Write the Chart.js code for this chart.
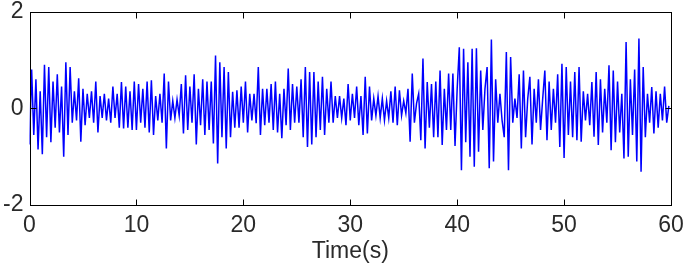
<!DOCTYPE html>
<html><head><meta charset="utf-8">
<script src="https://cdn.jsdelivr.net/npm/chart.js@4"></script>
<style>html,body{margin:0;padding:0;background:#fff}#wrap{width:685px;height:275px}</style>
</head><body><div id="wrap"><canvas id="c" width="685" height="275"></canvas></div>
<script>
const DT = 0.2;            // sampling step (s)
const xTickValues = [0, 10, 20, 30, 40, 50, 60];
const yTickValues = [-2, 0, 2];
const xTitle = 'Time(s)';
// signal values, one row per second (5 samples)
const signal = [
 -0.75, 0.80,-0.55, 0.60,-0.85,
  0.35,-0.95, 0.90,-0.60, 0.85,
 -0.70, 0.55,-0.40, 0.70,-0.50,
  0.45,-1.00, 0.95,-0.55, 0.85,
 -0.30, 0.35,-0.25, 0.62,-0.69,
  0.40,-0.35, 0.30,-0.20, 0.35,
 -0.30, 0.55,-0.50, 0.25,-0.20,
  0.30,-0.25, 0.20,-0.30, 0.45,
 -0.20, 0.30,-0.40, 0.54,-0.42,
  0.45,-0.40, 0.35,-0.45, 0.55,
 -0.45, 0.50,-0.30, 0.40,-0.40,
  0.55,-0.50, 0.58,-0.55, 0.25,
 -0.25, 0.30,-0.30, 0.72,-0.83,
  0.55,-0.25, 0.15,-0.20, 0.18,
 -0.15, 0.50,-0.52, 0.68,-0.45,
  0.45,-0.30, 0.70,-0.75, 0.40,
 -0.35, 0.60,-0.55, 0.55,-0.45,
  0.55,-0.73, 1.09,-1.14, 0.95,
 -0.60, 0.85,-0.83, 0.75,-0.60,
  0.34,-0.40, 0.37,-0.40, 0.45,
 -0.30, 0.55,-0.50, 0.30,-0.25,
  0.30,-0.31, 0.85,-0.55, 0.40,
 -0.35, 0.40,-0.30, 0.50,-0.45,
  0.55,-0.50, 0.30,-0.62, 0.40,
 -0.35, 0.82,-0.45, 0.50,-0.30,
  0.45,-0.30, 0.60,-0.60, 0.85,
 -0.80, 0.75,-0.75, 0.75,-0.60,
  0.55,-0.45, 0.65,-0.55, 0.40,
 -0.30, 0.55,-0.30, 0.25,-0.20,
  0.25,-0.20, 0.20,-0.35, 0.50,
 -0.25, 0.30,-0.20, 0.45,-0.35,
  0.25,-0.55, 0.65,-0.52, 0.45,
 -0.25, 0.20,-0.15, 0.25,-0.20,
  0.20,-0.25, 0.15,-0.20, 0.35,
 -0.30, 0.45,-0.35, 0.37,-0.15,
  0.15,-0.10, 0.40,-0.69, 0.72,
 -0.30, 0.10, 0.30,-0.66, 1.03,
 -0.83, 0.54,-0.40, 0.50,-0.60,
  0.55,-0.60, 0.78,-0.76, 0.40,
 -0.45, 0.72,-0.45, 0.72,-0.78,
  0.40, 1.26,-1.28, 1.23,-0.70,
  0.95,-1.00, 1.23,-1.21, 1.24,
 -0.90, 0.78,-0.45, 0.40, 0.85,
 -1.24, 1.42,-1.10, 0.60,-0.30,
  0.30,-0.25,-0.60, 1.16,-1.28,
  1.06,-0.30, 0.20,-0.20, 0.70,
 -0.83, 0.78,-0.60, 0.20, 0.65,
 -0.75, 0.40,-0.30, 0.60,-0.45,
  0.20, 0.78,-0.66, 0.55,-0.45,
  0.40,-0.30, 0.70,-0.80, 0.92,
 -1.03, 0.85,-0.55, 0.55,-0.60,
  0.75,-0.66, 0.85,-0.69, 0.35,
 -0.25, 0.30,-0.35, 0.54,-0.59,
  0.75,-0.76, 0.60,-0.50, 0.40,
 -0.30, 0.89,-0.87, 0.78,-0.70,
  0.55,-0.50, 0.30,-1.04, 1.37,
 -1.00, 0.60,-0.55, 0.80,-1.10,
  1.44,-1.31, 0.85,-0.60, 0.30,
 -0.30, 0.44,-0.52, 0.35,-0.40,
  0.30,-0.25, 0.45,-0.30, 0.05
];
const times = signal.map((_, i) => Math.round(i * DT * 10) / 10);
const points = signal.map((v, i) => ({ x: times[i], y: v }));

const FONT = { family: '"Liberation Sans", Arial, sans-serif', size: 23 };
const TEXT = '#2a2a2a';

const boxPlugin = {
  id: 'box',
  afterDatasetsDraw(chart) {
    const { ctx, chartArea: a, scales: { x, y } } = chart;
    ctx.save();
    ctx.strokeStyle = '#000';
    ctx.lineWidth = 1;
    const L = Math.round(a.left) + 0.5, R = Math.round(a.right) + 0.5;
    const T = Math.round(a.top) + 0.5, B = Math.round(a.bottom) + 0.5;
    ctx.strokeRect(L, T, R - L, B - T);
    const len = 6;
    ctx.beginPath();
    x.ticks.forEach(t => {
      const px = Math.round(x.getPixelForValue(t.value)) + 0.5;
      ctx.moveTo(px, B); ctx.lineTo(px, B - len);
      ctx.moveTo(px, T); ctx.lineTo(px, T + len);
    });
    y.ticks.forEach(t => {
      const py = Math.round(y.getPixelForValue(t.value)) + 0.5;
      ctx.moveTo(L, py); ctx.lineTo(L + len, py);
      ctx.moveTo(R, py); ctx.lineTo(R - len, py);
    });
    ctx.stroke();
    ctx.restore();
  }
};

new Chart(document.getElementById('c'), {
  type: 'line',
  data: { datasets: [{ data: points, borderColor: '#0000ff', borderWidth: 1.5,
    pointRadius: 0, tension: 0, fill: false }] },
  options: {
    responsive: false, devicePixelRatio: 1, animation: false,
    layout: { padding: { top: 11.5, right: 14, left: 0, bottom: 0 } },
    plugins: { legend: { display: false }, tooltip: { enabled: false } },
    scales: {
      x: {
        type: 'linear', min: 0, max: 60,
        afterBuildTicks: s => { s.ticks = xTickValues.map(v => ({ value: v })); },
        afterFit: s => { s.height = 70; s.paddingLeft = 0; s.paddingRight = 0; },
        grid: { display: false, drawTicks: false }, border: { display: false },
        ticks: { font: FONT, color: TEXT, padding: 7, maxRotation: 0, autoSkip: false },
        title: { display: true, text: xTitle, font: FONT, color: TEXT, padding: { top: 0, bottom: 10 } }
      },
      y: {
        min: -2, max: 2,
        afterBuildTicks: s => { s.ticks = yTickValues.map(v => ({ value: v })); },
        afterFit: s => { s.width = 29.5; s.paddingTop = 0; s.paddingBottom = 0; },
        grid: { display: false, drawTicks: false }, border: { display: false },
        ticks: { font: FONT, color: TEXT, padding: 6 }
      }
    }
  },
  plugins: [boxPlugin]
});
</script></body></html>
